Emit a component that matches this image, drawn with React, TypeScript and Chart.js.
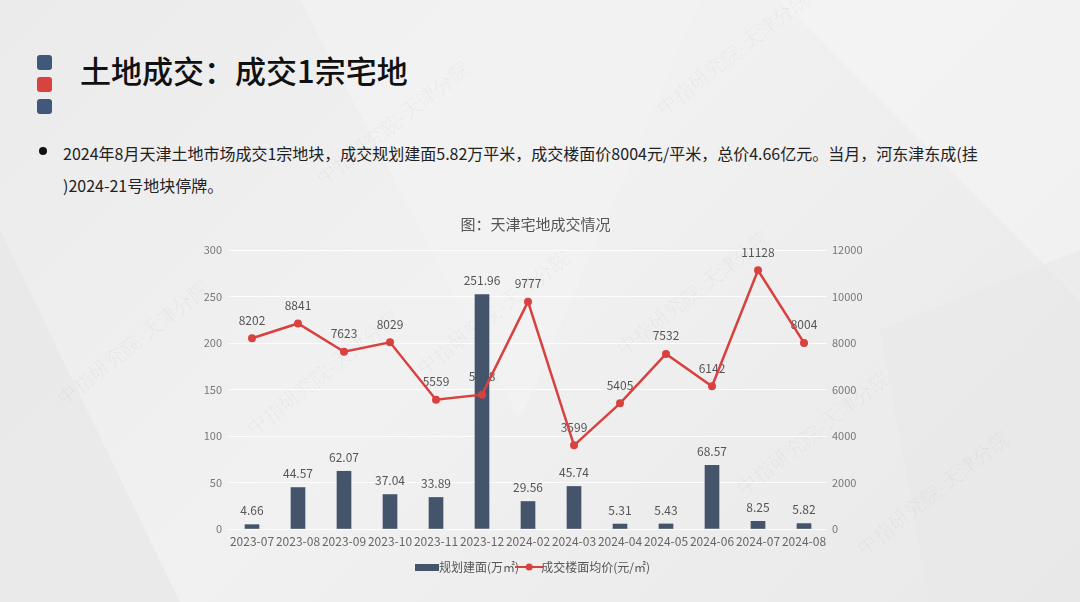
import React, { useEffect, useRef } from "react";
import { Chart, registerables } from "chart.js";

Chart.register(...registerables);

const categories = ["2023-07", "2023-08", "2023-09", "2023-10", "2023-11", "2023-12", "2024-02", "2024-03", "2024-04", "2024-05", "2024-06", "2024-07", "2024-08"];
const areaValues = [4.66, 44.57, 62.07, 37.04, 33.89, 251.96, 29.56, 45.74, 5.31, 5.43, 68.57, 8.25, 5.82];
const priceValues = [8202, 8841, 7623, 8029, 5559, 5778, 9777, 3599, 5405, 7532, 6142, 11128, 8004];
const leftTicks = [0, 50, 100, 150, 200, 250, 300];
const rightTicks = [0, 2000, 4000, 6000, 8000, 10000, 12000];

const BAR = "#44546a";
const RED = "#d8413f";
const FONT = "'Noto Sans CJK SC', 'Noto Sans', sans-serif";

function makeBarIcon() {
  const c = document.createElement("canvas");
  c.width = 24; c.height = 7;
  const g = c.getContext("2d")!;
  g.fillStyle = BAR;
  g.fillRect(0, 0, 24, 7);
  return c;
}
function makeLineIcon() {
  const c = document.createElement("canvas");
  c.width = 28; c.height = 10;
  const g = c.getContext("2d")!;
  g.strokeStyle = RED; g.lineWidth = 2;
  g.beginPath(); g.moveTo(0, 5); g.lineTo(28, 5); g.stroke();
  g.fillStyle = RED;
  g.beginPath(); g.arc(14, 5, 3.5, 0, Math.PI * 2); g.fill();
  return c;
}

const labelPlugin = {
  id: "valueLabels",
  beforeDatasetsDraw(chart: any) {
    const ctx = chart.ctx;
    const meta = chart.getDatasetMeta(1);
    ctx.save();
    ctx.font = `12px ${FONT}`;
    ctx.fillStyle = "#555";
    ctx.textAlign = "center";
    ctx.textBaseline = "middle";
    meta.data.forEach((pt: any, i: number) => {
      ctx.fillText(String(priceValues[i]), pt.x, pt.y - 18);
    });
    ctx.restore();
  },
  afterDatasetsDraw(chart: any) {
    const ctx = chart.ctx;
    const meta = chart.getDatasetMeta(0);
    ctx.save();
    ctx.font = `12px ${FONT}`;
    ctx.fillStyle = "#555";
    ctx.textAlign = "center";
    ctx.textBaseline = "middle";
    meta.data.forEach((bar: any, i: number) => {
      ctx.fillText(areaValues[i].toFixed(2), bar.x, bar.y - 14);
    });
    ctx.restore();
  },
};

function ChartBox() {
  const ref = useRef<HTMLCanvasElement | null>(null);
  useEffect(() => {
    if (!ref.current) return;
    const barIcon = makeBarIcon();
    const lineIcon = makeLineIcon();
    const chart = new Chart(ref.current, {
      data: {
        labels: categories,
        datasets: [
          {
            type: "bar",
            label: "规划建面(万㎡)",
            data: areaValues,
            backgroundColor: BAR,
            yAxisID: "y",
            barThickness: 14,
            order: 2,
          },
          {
            type: "line",
            label: "成交楼面均价(元/㎡)",
            data: priceValues,
            borderColor: RED,
            backgroundColor: RED,
            borderWidth: 2.5,
            pointRadius: 4,
            pointBackgroundColor: RED,
            pointBorderWidth: 0,
            tension: 0,
            yAxisID: "y1",
            order: 1,
          },
        ] as any,
      },
      options: {
        animation: false,
        responsive: false,
        maintainAspectRatio: false,
        layout: { padding: { left: 19, right: 28, top: 0, bottom: 2 } },
        plugins: {
          title: {
            display: true,
            text: "图：天津宅地成交情况",
            color: "#555",
            font: { family: FONT, size: 15, weight: "normal" as any },
            padding: { top: 10, bottom: 17 },
          },
          legend: {
            display: true,
            position: "bottom",
            labels: {
              usePointStyle: true,
              color: "#555",
              font: { family: FONT, size: 12 },
              padding: 4,
              generateLabels: () => [
                { text: "规划建面(万㎡)", pointStyle: barIcon as any, datasetIndex: 0, fontColor: "#555" } as any,
                { text: "成交楼面均价(元/㎡)", pointStyle: lineIcon as any, datasetIndex: 1, fontColor: "#555" } as any,
              ],
            },
          },
          tooltip: { enabled: false },
        },
        scales: {
          x: {
            grid: { display: false, drawTicks: false },
            border: { display: false },
            afterFit: (s: any) => { s.height = 28; },
            ticks: { color: "#666", font: { family: FONT, size: 12 }, padding: 5, maxRotation: 0, autoSkip: false },
          },
          y: {
            position: "left",
            min: 0,
            max: 300,
            afterBuildTicks: (s: any) => { s.ticks = leftTicks.map((v) => ({ value: v })); },
            afterFit: (s: any) => { s.width = 30; },
            grid: { color: "rgba(255,255,255,0.85)", lineWidth: 1, drawTicks: false },
            border: { display: false },
            ticks: { color: "#777", font: { family: FONT, size: 11 }, padding: 7, callback: (v: any) => String(v) },
          },
          y1: {
            position: "right",
            min: 0,
            max: 12000,
            afterBuildTicks: (s: any) => { s.ticks = rightTicks.map((v) => ({ value: v })); },
            afterFit: (s: any) => { s.width = 45; },
            grid: { display: false, drawTicks: false },
            border: { display: false },
            ticks: { color: "#777", font: { family: FONT, size: 11 }, padding: 5, callback: (v: any) => String(v) },
          },
        },
      },
      plugins: [labelPlugin],
    } as any);
    return () => chart.destroy();
  }, []);
  return (
    <div style={{ position: "absolute", left: 180, top: 205, width: 720, height: 380 }}>
      <canvas ref={ref} width={720} height={380} style={{ width: 720, height: 380 }} />
    </div>
  );
}

const watermarks = [
  { x: 40, y: 330, r: -38 },
  { x: 230, y: 360, r: -38 },
  { x: 400, y: 300, r: -38 },
  { x: 600, y: 280, r: -38 },
  { x: 720, y: 420, r: -38 },
  { x: 300, y: 110, r: -38 },
  { x: 640, y: 40, r: -38 },
  { x: 840, y: 480, r: -38 },
];

export default function App() {
  useEffect(() => {
    document.body.style.margin = "0";
  }, []);
  const sq = (top: number, color: string) => (
    <div style={{ position: "absolute", left: 37, top, width: 15, height: 15, borderRadius: 3, background: color }} />
  );
  return (
    <div
      style={{
        position: "relative",
        width: 1080,
        height: 602,
        overflow: "hidden",
        background: "linear-gradient(135deg, #ebebeb 0%, #f1f1f1 45%, #ededed 70%, #e9e9e9 100%)",
        fontFamily: FONT,
      }}
    >
      <div style={{ position: "absolute", inset: 0, background: "#f4f4f4", opacity: 0.6, clipPath: "polygon(300px 0, 700px 0, 520px 420px)" }} />
      <div style={{ position: "absolute", inset: 0, background: "#e6e6e6", opacity: 0.6, clipPath: "polygon(0 230px, 180px 602px, 0 602px)" }} />
      <div style={{ position: "absolute", inset: 0, background: "#f5f5f5", opacity: 0.6, clipPath: "polygon(780px 0, 1080px 0, 1080px 300px)" }} />
      <div style={{ position: "absolute", inset: 0, background: "#e8e8e8", opacity: 0.5, clipPath: "polygon(880px 330px, 1080px 250px, 1080px 602px, 930px 602px)" }} />
      {watermarks.map((w, i) => (
        <div
          key={i}
          style={{
            position: "absolute",
            left: w.x,
            top: w.y,
            transform: `rotate(${w.r}deg)`,
            fontSize: 20,
            color: "rgba(0,0,0,0.04)",
            whiteSpace: "nowrap",
            fontFamily: "serif",
          }}
        >
          中指研究院-天津分院
        </div>
      ))}
      {sq(55, "#40597a")}
      {sq(77, "#d9433f")}
      {sq(99, "#40597a")}
      <div style={{ position: "absolute", left: 80, top: 49, fontSize: 31, fontWeight: 500, color: "#111", lineHeight: "42px", whiteSpace: "nowrap" }}>
        土地成交：成交1宗宅地
      </div>
      <div style={{ position: "absolute", left: 39, top: 147, width: 8, height: 8, borderRadius: 4, background: "#111" }} />
      <div style={{ position: "absolute", left: 63, top: 137, fontSize: 16, color: "#222", lineHeight: "32px", whiteSpace: "nowrap" }}>
        2024年8月天津土地市场成交1宗地块，成交规划建面5.82万平米，成交楼面价8004元/平米，总价4.66亿元。当月，河东津东成(挂
        <br />
        )2024-21号地块停牌。
      </div>
      <ChartBox />
    </div>
  );
}
